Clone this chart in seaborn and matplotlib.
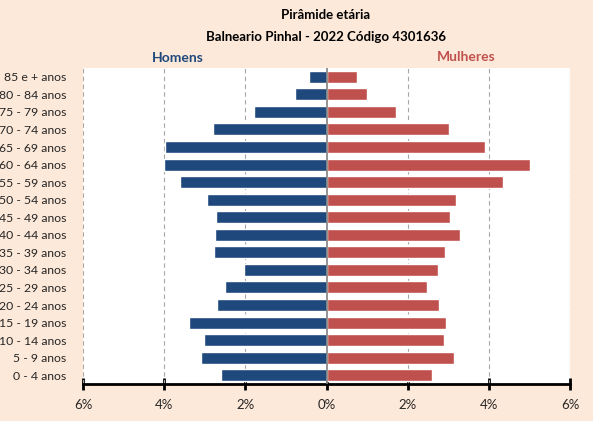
import numpy as np
import pandas as pd
import matplotlib
matplotlib.use("Agg")
import matplotlib.pyplot as plt
from matplotlib.ticker import FuncFormatter
import seaborn as sns

# ------------------------
# DATA (% of total population)
# ------------------------
faixas = ["85 e + anos", "80 - 84 anos", "75 - 79 anos", "70 - 74 anos",
          "65 - 69 anos", "60 - 64 anos", "55 - 59 anos", "50 - 54 anos",
          "45 - 49 anos", "40 - 44 anos", "35 - 39 anos", "30 - 34 anos",
          "25 - 29 anos", "20 - 24 anos", "15 - 19 anos", "10 - 14 anos",
          "5 - 9 anos", "0 - 4 anos"]
homens = [0.44, 0.77, 1.78, 2.79, 3.98, 4.01, 3.60, 2.94, 2.72, 2.75,
          2.76, 2.04, 2.49, 2.69, 3.38, 3.01, 3.09, 2.61]
mulheres = [0.76, 1.00, 1.72, 3.01, 3.91, 5.02, 4.36, 3.20, 3.05, 3.30,
            2.93, 2.74, 2.48, 2.78, 2.95, 2.90, 3.15, 2.59]
x_ticks = [-6, -4, -2, 0, 2, 4, 6]

COR_H = "#1F497D"
COR_M = "#C0504D"
FUNDO = "#FDE9D9"

df = pd.DataFrame({"faixa": faixas,
                   "homens": [-v for v in homens],
                   "mulheres": mulheres})

sns.set_style("white")
plt.rcParams["font.family"] = ["Lato", "DejaVu Sans"]

fig = plt.figure(figsize=(5.93, 4.21), dpi=100, facecolor=FUNDO)
ax = fig.add_axes([83 / 593, 1 - 384 / 421, 487 / 593, 316 / 421])
ax.set_facecolor("white")

sns.barplot(data=df, x="homens", y="faixa", orient="h", color=COR_H,
            saturation=1, width=0.68, ax=ax, zorder=3)
sns.barplot(data=df, x="mulheres", y="faixa", orient="h", color=COR_M,
            saturation=1, width=0.68, ax=ax, zorder=3)

ax.set_xlim(-6, 6)
ax.set_ylim(len(faixas) - 0.5, -0.5)
ax.set_xticks(x_ticks)
ax.xaxis.set_major_formatter(FuncFormatter(lambda v, p: f"{abs(v):.0f}%"))
ax.set_xlabel("")
ax.set_ylabel("")

# grid
for v in x_ticks:
    if v == 0:
        ax.axvline(v, color="#808080", lw=1.2, zorder=4)
    else:
        ax.axvline(v, color="#A6A6A6", lw=0.8, ls=(0, (4, 3)), zorder=1)

for s in ["top", "right", "left"]:
    ax.spines[s].set_visible(False)
ax.spines["bottom"].set_color("black")
ax.spines["bottom"].set_linewidth(2)
ax.tick_params(axis="x", bottom=True, direction="inout", length=9, width=2,
               color="black", labelsize=9.5, pad=6, labelcolor="#262626")
ax.tick_params(axis="y", left=False, length=0, labelsize=8.8, pad=12,
               labelcolor="#262626")

fig.text(326 / 593, 1 - 15 / 421, "Pirâmide etária", ha="center", va="center",
         fontsize=9.5, fontweight="bold", color="black")
fig.text(326 / 593, 1 - 37 / 421, "Balneario Pinhal - 2022 Código 4301636",
         ha="center", va="center", fontsize=9.5, fontweight="bold", color="black")
fig.text(178 / 593, 1 - 58 / 421, "Homens", ha="center", va="center",
         fontsize=10, fontweight="bold", color=COR_H)
fig.text(466 / 593, 1 - 57 / 421, "Mulheres", ha="center", va="center",
         fontsize=10, fontweight="bold", color=COR_M)

fig.savefig("out.png", dpi=100, facecolor=FUNDO)
